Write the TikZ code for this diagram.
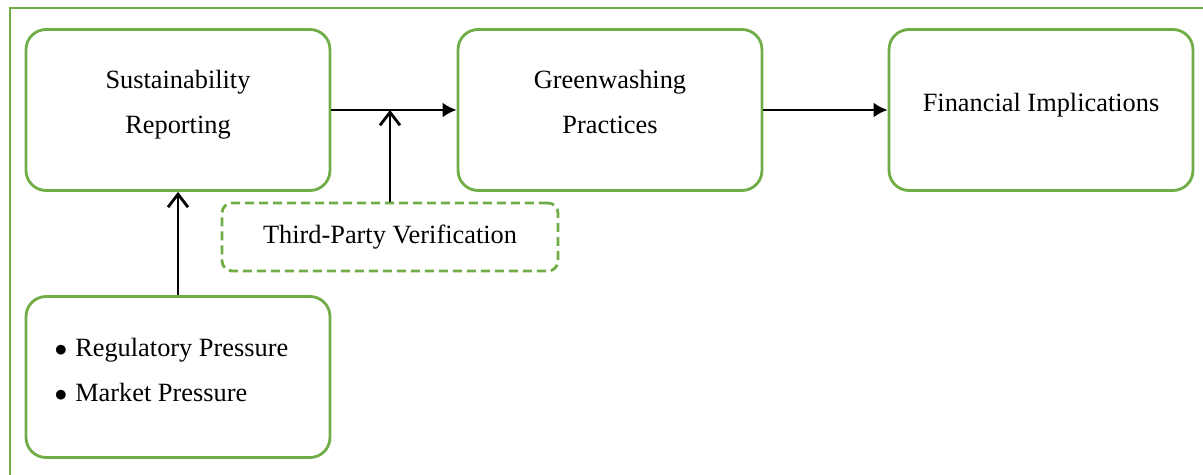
\documentclass[tikz,border=0pt]{standalone}
\usepackage{fontspec}
\setmainfont{Liberation Serif}
\usetikzlibrary{arrows.meta}
\definecolor{boxgreen}{HTML}{70AD47}

\begin{document}
\begin{tikzpicture}[x=0.02cm, y=-0.02cm]
\useasboundingbox (0,0) rectangle (1203,475);
% outer frame (only left and top edges show)
\draw [boxgreen, line width=1.5pt] (10,475) -- (10,8) -- (1203,8);
\begin{scope}[every node/.style={draw=boxgreen, line width=1.6pt, rounded corners=0.4cm, minimum width=6.08cm, minimum height=3.22cm, align=center, text depth=0.32cm, font=\fontsize{15}{25.5}\selectfont}]
    \node (S) at (178,110) {Sustainability\\Reporting};
    \node (G) at (610,110) {Greenwashing\\Practices};
    \node (F) at (1041,110) {Financial Implications};
    \node (P) at (178,377) [align=left, text depth=0.3cm] {$\bullet$\hspace{0.3em}Regulatory Pressure\kern0.26cm\\$\bullet$\hspace{0.3em}Market Pressure};
    \node (T) at (390,237) [dash pattern=on 0.18cm off 0.1cm, rounded corners=0.2cm, minimum width=6.72cm, minimum height=1.36cm, text depth=0.12cm] {Third-Party Verification};
\end{scope}
\coordinate (J) at (T.north |- S.east);
\path [-{Latex[length=2.8mm,width=3mm]}, line width=1.6pt] (S) edge (G);
\path [-{Latex[length=2.8mm,width=3mm]}, line width=1.6pt] (G) edge (F);
\path [-{Straight Barb[length=2.6mm,width=4mm]}, line width=1.6pt] (T) edge (J);
\path [-{Straight Barb[length=2.6mm,width=4mm]}, line width=1.6pt] (P) edge (S);
\end{tikzpicture}
\end{document}
